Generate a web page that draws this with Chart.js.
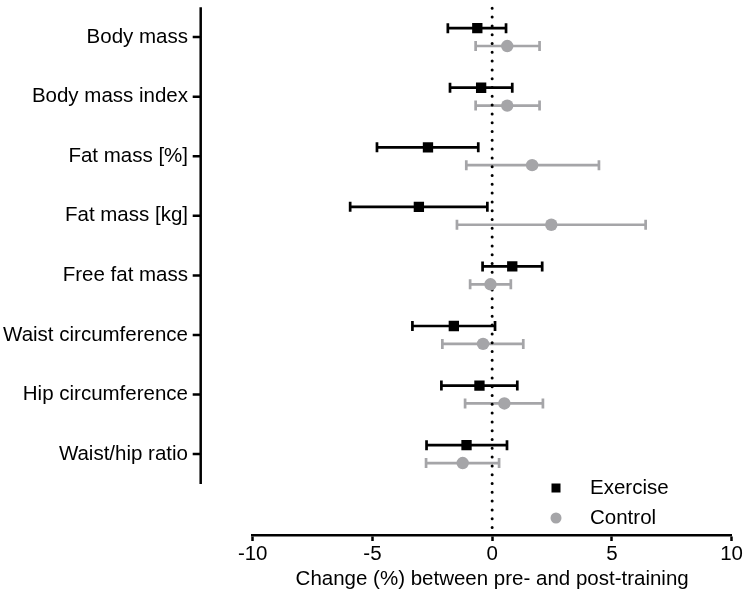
<!DOCTYPE html>
<html>
<head>
<meta charset="utf-8">
<script src="https://cdn.jsdelivr.net/npm/chart.js@4.4.0/dist/chart.umd.min.js"></script>
<style>
  body { margin: 0; background: #fff; }
  #wrap { width: 744px; height: 605px; }
</style>
</head>
<body>
<div id="wrap"><canvas id="myChart"></canvas></div>
<script>
const categories = ['Body mass', 'Body mass index', 'Fat mass [%]', 'Fat mass [kg]', 'Free fat mass', 'Waist circumference', 'Hip circumference', 'Waist/hip ratio'];

const exMean = [-0.62, -0.46, -2.68, -3.06, 0.84, -1.60, -0.53, -1.07];
const exLow  = [-1.85, -1.76, -4.81, -5.93, -0.40, -3.33, -2.12, -2.74];
const exHigh = [0.58, 0.84, -0.58, -0.20, 2.09, 0.12, 1.05, 0.62];

const ctMean = [0.63, 0.63, 1.67, 2.47, -0.07, -0.38, 0.51, -1.23];
const ctLow  = [-0.69, -0.69, -1.08, -1.47, -0.92, -2.08, -1.13, -2.76];
const ctHigh = [1.98, 1.98, 4.46, 6.41, 0.78, 1.30, 2.12, 0.29];

const xTicks = [-10, -5, 0, 5, 10];

const BLACK = '#000000';
const GREY = '#a5a5a8';
const FONT = 'Arial, "Liberation Sans", Helvetica, sans-serif';

Chart.defaults.color = '#000';
Chart.defaults.font.family = FONT;
Chart.defaults.font.size = 20.5;

// rows: exercise a little above the tick, control a little below
const exShift = -0.15;
const ctShift = 0.15;

const exData = exMean.map((v, i) => ({x: v, y: i + exShift, lo: exLow[i], hi: exHigh[i]}));
const ctData = ctMean.map((v, i) => ({x: v, y: i + ctShift, lo: ctLow[i], hi: ctHigh[i]}));

const forestPlugin = {
    id: 'forest',
    beforeDatasetsDraw(chart) {
        const {ctx, chartArea, scales: {x, y}} = chart;
        ctx.save();
        // error bars
        chart.data.datasets.forEach(ds => {
            ctx.strokeStyle = ds.borderColor;
            ctx.lineWidth = 2.7;
            ds.data.forEach(p => {
                const py = y.getPixelForValue(p.y);
                const x1 = x.getPixelForValue(p.lo);
                const x2 = x.getPixelForValue(p.hi);
                ctx.beginPath();
                ctx.moveTo(x1, py);
                ctx.lineTo(x2, py);
                ctx.moveTo(x1, py - 5);
                ctx.lineTo(x1, py + 5);
                ctx.moveTo(x2, py - 5);
                ctx.lineTo(x2, py + 5);
                ctx.stroke();
            });
        });
        // dotted zero line
        const x0 = x.getPixelForValue(0);
        ctx.strokeStyle = BLACK;
        ctx.lineWidth = 3;
        ctx.lineCap = 'round';
        ctx.setLineDash([0, 8.8]);
        ctx.beginPath();
        ctx.moveTo(x0, chartArea.top + 1);
        ctx.lineTo(x0, chartArea.bottom);
        ctx.stroke();
        ctx.restore();
    },
    afterDraw(chart) {
        const {ctx, chartArea, scales: {x, y}} = chart;
        ctx.save();
        // left category axis, detached from the x axis
        const ax = chartArea.left - 52;
        ctx.strokeStyle = BLACK;
        ctx.lineWidth = 2.5;
        ctx.beginPath();
        ctx.moveTo(ax, chartArea.top);
        ctx.lineTo(ax, y.getPixelForValue(categories.length - 0.5));
        categories.forEach((c, i) => {
            const py = y.getPixelForValue(i);
            ctx.moveTo(ax, py);
            ctx.lineTo(ax - 8, py);
        });
        ctx.stroke();

        // legend
        ctx.font = '20.5px ' + FONT;
        ctx.textBaseline = 'middle';
        ctx.textAlign = 'left';
        const lx = 556, ly = 488;
        ctx.fillStyle = BLACK;
        ctx.fillRect(lx - 4.5, ly - 4.5, 9, 9);
        ctx.fillText('Exercise', 590, ly);
        ctx.fillStyle = GREY;
        ctx.beginPath();
        ctx.arc(lx, ly + 30, 5.5, 0, Math.PI * 2);
        ctx.fill();
        ctx.fillStyle = BLACK;
        ctx.fillText('Control', 590, ly + 30);
        ctx.restore();
    }
};

new Chart(document.getElementById('myChart'), {
    type: 'scatter',
    data: {
        datasets: [{
            label: 'Exercise',
            data: exData,
            pointStyle: 'rect',
            pointRadius: 7.3,
            pointHoverRadius: 7.3,
            backgroundColor: BLACK,
            borderColor: BLACK,
            borderWidth: 0
        }, {
            label: 'Control',
            data: ctData,
            pointStyle: 'circle',
            pointRadius: 6.2,
            pointHoverRadius: 6.2,
            backgroundColor: GREY,
            borderColor: GREY,
            borderWidth: 0
        }]
    },
    options: {
        responsive: true,
        maintainAspectRatio: false,
        animation: false,
        events: [],
        layout: {
            padding: {top: 3, right: 11, left: 0, bottom: 0}
        },
        plugins: {
            legend: {display: false},
            tooltip: {enabled: false}
        },
        scales: {
            x: {
                type: 'linear',
                min: -10,
                max: 10,
                afterBuildTicks: s => { s.ticks = xTicks.map(v => ({value: v})); },
                afterFit: s => { s.height = 70; },
                grid: {
                    drawOnChartArea: false,
                    drawTicks: true,
                    tickLength: 6,
                    tickWidth: 2.5,
                    tickColor: BLACK
                },
                border: {display: true, color: BLACK, width: 2.5},
                ticks: {padding: 1, color: BLACK, maxRotation: 0},
                title: {
                    display: true,
                    text: 'Change (%) between pre- and post-training',
                    color: BLACK,
                    padding: {top: 0, bottom: 13}
                }
            },
            y: {
                type: 'linear',
                reverse: true,
                min: -0.5,
                max: 8.358,
                afterBuildTicks: s => { s.ticks = categories.map((c, i) => ({value: i})); },
                afterFit: s => {
                    s.width = 252.7;
                    s.paddingTop = 0;
                    s.paddingBottom = 0;
                },
                grid: {display: false, drawTicks: false},
                border: {display: false},
                ticks: {
                    padding: 64.7,
                    color: BLACK,
                    callback: v => categories[v]
                }
            }
        }
    },
    plugins: [forestPlugin]
});
</script>
</body>
</html>
